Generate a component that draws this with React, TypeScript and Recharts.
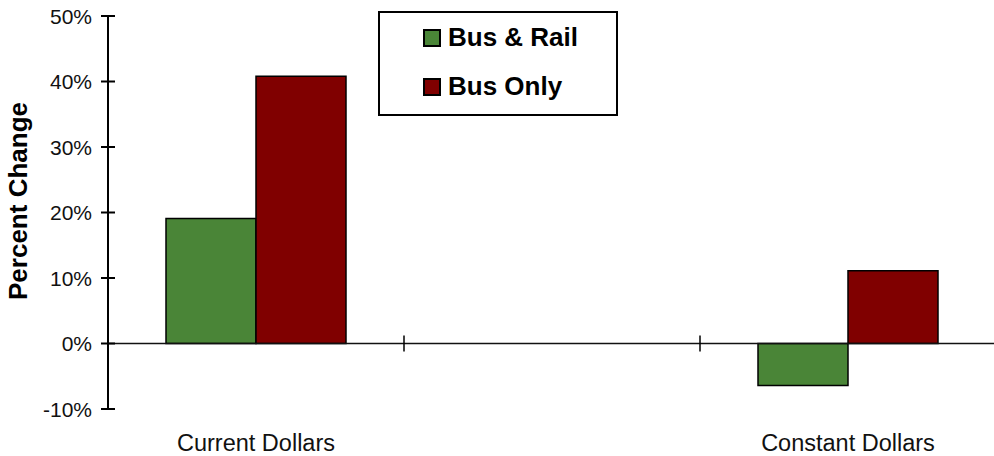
import { BarChart, Bar, XAxis, YAxis, ReferenceLine, Legend } from 'recharts';

const categories = ['Current Dollars', '', 'Constant Dollars'];
const busAndRail = [19.1, null, -6.4];
const busOnly = [40.8, null, 11.1];
const yTicks = [-10, 0, 10, 20, 30, 40, 50];

const GREEN = '#4a8537';
const RED = '#800000';
const FONT = '"Liberation Sans", Arial, sans-serif';

const data = categories.map((name, i) => ({
  name,
  busRail: busAndRail[i],
  busOnly: busOnly[i],
}));

function YTick(props: any) {
  const { x, y, payload } = props;
  return (
    <g>
      <line x1={x + 9} x2={x + 23} y1={y} y2={y} stroke="#000" strokeWidth={2} />
      <text x={x} y={y} dy="0.36em" textAnchor="end" fontFamily={FONT} fontSize={21} fill="#111">
        {`${payload.value}%`}
      </text>
    </g>
  );
}

function ZeroLine(props: any) {
  const { x1, x2, y1 } = props;
  const n = categories.length;
  const marks = [];
  for (let k = 1; k < n; k++) {
    const cx = x1 + ((x2 - x1) * k) / n;
    marks.push(<line key={k} x1={cx} x2={cx} y1={y1 - 8} y2={y1 + 8} stroke="#000" strokeWidth={1.5} />);
  }
  return (
    <g>
      <line x1={x1} x2={x2} y1={y1} y2={y1} stroke="#111" strokeWidth={1.5} />
      {marks}
    </g>
  );
}

function LegendBox(props: any) {
  const { payload } = props;
  return (
    <div style={{ display: 'flex', flexDirection: 'column' }}>
      {payload.map((item: any) => (
        <div
          key={item.value}
          style={{ display: 'flex', alignItems: 'center', height: 49, paddingLeft: 43 }}
        >
          <span
            style={{
              display: 'inline-block',
              width: 18,
              height: 18,
              boxSizing: 'border-box',
              background: item.color,
              border: '2px solid #000',
              marginRight: 7,
            }}
          />
          <span style={{ fontFamily: FONT, fontWeight: 'bold', fontSize: 26, color: '#000' }}>
            {item.value}
          </span>
        </div>
      ))}
    </div>
  );
}

export default function App() {
  return (
    <div style={{ position: 'absolute', left: 0, top: 0, background: '#fff', overflow: 'hidden', width: 994, height: 456 }}>
      <BarChart
        width={996}
        height={456}
        data={data}
        margin={{ top: 16, right: 0, bottom: 0, left: 0 }}
        barGap={0}
      >
        <XAxis
          dataKey="name"
          axisLine={false}
          tickLine={false}
          tickSize={0}
          tickMargin={25}
          height={47}
          interval={0}
          tick={{ fontFamily: FONT, fontSize: 23.5, fill: '#111' }}
        />
        <YAxis
          domain={[-10, 50]}
          ticks={yTicks}
          width={108}
          tickLine={false}
          tickSize={0}
          tickMargin={16}
          axisLine={{ stroke: '#000', strokeWidth: 2 }}
          tick={<YTick />}
          label={{
            content: () => (
              <text
                x={27}
                y={201}
                transform="rotate(-90, 27, 201)"
                textAnchor="middle"
                fontFamily={FONT}
                fontWeight="bold"
                fontSize={26}
                fill="#000"
              >
                Percent Change
              </text>
            ),
          }}
        />
        <Legend
          layout="vertical"
          align="center"
          verticalAlign="middle"
          content={<LegendBox />}
          wrapperStyle={{
            left: 378,
            top: 11,
            width: 240,
            height: 105,
            border: '2px solid #000',
            boxSizing: 'border-box',
            background: '#fff',
          }}
        />
        <Bar dataKey="busRail" name="Bus & Rail" fill={GREEN} stroke="#000" strokeWidth={1.5} barSize={90} isAnimationActive={false} />
        <Bar dataKey="busOnly" name="Bus Only" fill={RED} stroke="#000" strokeWidth={1.5} barSize={90} isAnimationActive={false} />
        <ReferenceLine y={0} shape={<ZeroLine />} />
      </BarChart>
    </div>
  );
}
